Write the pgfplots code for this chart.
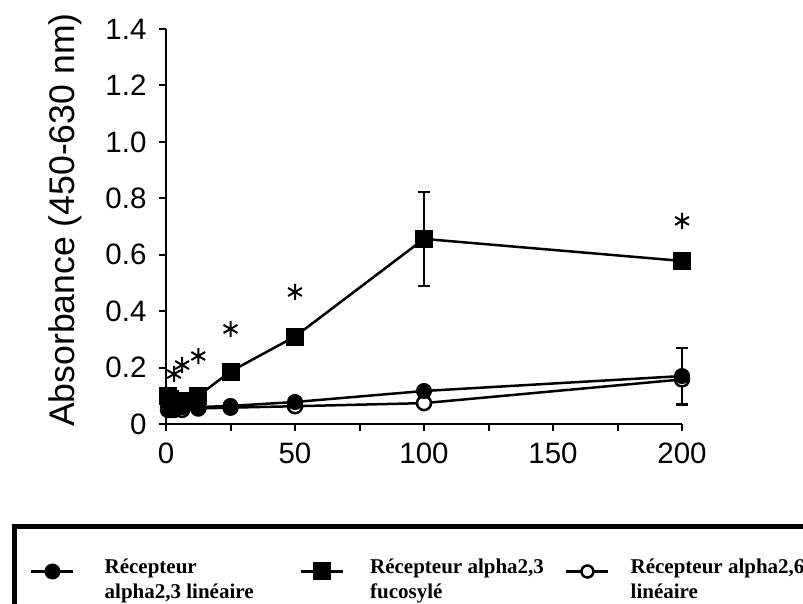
\documentclass[border=0pt]{standalone}
\usepackage{fontspec}
\setmainfont{Liberation Sans}
\newfontfamily\legfont{Liberation Serif}
\usepackage{pgfplots}
\pgfplotsset{compat=1.18}
\begin{document}
\begin{tikzpicture}[x=1pt,y=1pt]
\useasboundingbox (0,0) rectangle (803,603);
\begin{axis}[
  at={(166pt,179pt)}, anchor=south west,
  scale only axis, width=516pt, height=395pt,
  xmin=0, xmax=200, ymin=0, ymax=1.4,
  axis x line*=bottom, axis y line*=left,
  axis line style={line width=2.5pt},
  every tick/.style={black, line width=2pt},
  tick align=outside,
  major tick length=7pt, minor tick length=7pt,
  xtick={0,50,100,150,200}, minor xtick={25,75,125,175},
  ytick={0,0.2,0.4,0.6,0.8,1.0,1.2,1.4},
  yticklabels={0,0.2,0.4,0.6,0.8,1.0,1.2,1.4},
  /pgf/number format/assume math mode=true,
  tick label style={font=\fontsize{29.5}{34}\selectfont},
  yticklabel style={xshift=-9pt},
  xticklabel style={yshift=-8pt},
  ylabel={Absorbance (450-630 nm)},
  ylabel style={font=\fontsize{35.6}{40}\selectfont, at={(axis description cs:-0.196,0.516)}, anchor=center},
  legend columns=3,
  legend cell align=left,
  legend style={at={(axis description cs:-0.2636,-0.3734)}, anchor=west, draw=none, fill=none,
    inner sep=0pt, column sep=0pt, font=\legfont\bfseries\fontsize{21}{25}\selectfont,
    nodes={inner sep=0pt}},
  legend image code/.code={\draw[mark repeat=2,mark phase=2,#1] plot coordinates {(0pt,0pt) (21pt,0pt) (42pt,0pt)};},
  clip=false,
]
% open circles: alpha2,6 lineaire (drawn first, beneath)
\addplot[forget plot, black, line width=2.5pt, mark=*, mark size=7pt, mark options={fill=white, draw=black, line width=2.5pt}]
  coordinates {(0.78,0.05) (1.56,0.05) (3.125,0.05) (6.25,0.05) (12.5,0.055) (25,0.058) (50,0.063) (100,0.074) (200,0.158)};
% filled circles: alpha2,3 lineaire
\addplot[black, line width=2.5pt, mark=*, mark size=7.5pt, mark options={fill=black, line width=1pt}]
  coordinates {(0.78,0.06) (1.56,0.055) (3.125,0.05) (6.25,0.06) (12.5,0.06) (25,0.064) (50,0.078) (100,0.117) (200,0.17)};
\addlegendentry{\makebox[225pt][l]{\hspace{30pt}\begin{tabular}{@{}l@{}}Récepteur\\alpha2,3 linéaire\end{tabular}}}
% squares: alpha2,3 fucosyle
\addplot[black, line width=2.5pt, mark=square*, mark size=8.5pt, mark options={fill=black, line width=1pt}]
  coordinates {(0.78,0.10) (1.56,0.09) (3.125,0.07) (6.25,0.08) (12.5,0.10) (25,0.186) (50,0.31) (100,0.656) (200,0.578)};
\addlegendentry{\makebox[221pt][l]{\hspace{26pt}\begin{tabular}{@{}l@{}}Récepteur alpha2,3\\fucosylé\end{tabular}}}
\addlegendimage{black, line width=2.5pt, mark=*, mark size=6pt, mark options={fill=white, draw=black, line width=2.5pt}}
\addlegendentry{\makebox[200pt][l]{\hspace{21pt}\begin{tabular}{@{}l@{}}Récepteur alpha2,6\\linéaire\end{tabular}}}
% error bars
\addplot[forget plot, only marks, mark=none,
  error bars/.cd, y dir=both, y explicit,
  error bar style={black, line width=2.5pt},
  error mark options={rotate=90, mark size=6pt, line width=2.5pt, black}]
  coordinates {(100,0.656) +- (0,0.167) (200,0.17) +- (0,0.1)};
% significance stars
\addplot[forget plot, only marks, mark=asterisk, mark size=8pt, mark options={black, line width=2pt}]
  coordinates {(3.125,0.177) (6.25,0.209) (12.5,0.241) (25,0.337) (50,0.468) (200,0.72)};
\end{axis}
\draw[line width=5pt] (14.5,-20) rectangle (900,76.5);
\end{tikzpicture}
\end{document}
